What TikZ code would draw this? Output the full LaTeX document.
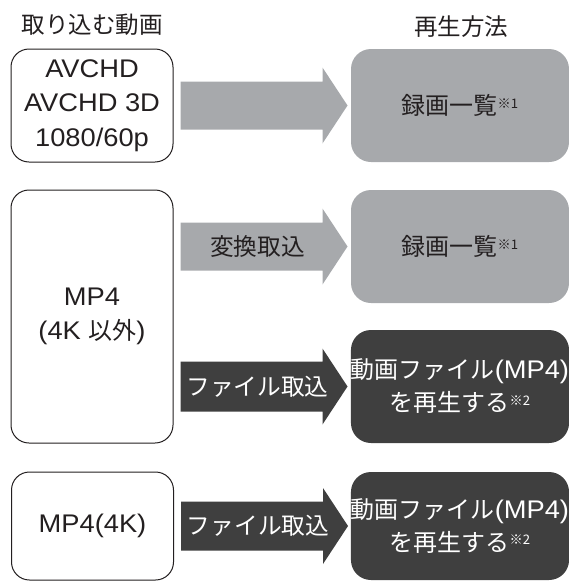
\documentclass[tikz,border=0pt]{standalone}
\usepackage{fontspec}
\setmainfont{Liberation Sans}[FakeStretch=1.07]
\newfontfamily\jp{Noto Sans CJK JP}[Scale=0.94]
\usetikzlibrary{calc}
\definecolor{boxgray}{RGB}{167,169,172}
\definecolor{boxdark}{RGB}{63,63,63}
\definecolor{ink}{RGB}{35,31,32}
\newcommand\refmk[1]{\raisebox{6.5pt}{\fontsize{14}{14}\selectfont\jp ※#1}}
\tikzset{
  txt/.style={font=\fontsize{25.5}{34.5}\selectfont, align=center, inner sep=0pt},
  title/.style={font=\fontsize{25}{28}\selectfont\jp, text=ink, inner sep=0pt},
  srcbox/.style={txt, draw=ink, line width=1pt, rounded corners=18pt, fill=white,
    minimum width=162pt, text=ink},
  playgray/.style={txt, fill=boxgray, rounded corners=20pt, minimum width=218pt, text=ink},
  playdark/.style={txt, fill=boxdark, rounded corners=20pt, minimum width=218pt, text=white,
    font=\fontsize{25.5}{33}\selectfont},
  arrlabel/.style={font=\fontsize{25.2}{28}\selectfont\jp, inner sep=0pt},
}
\begin{document}
\begin{tikzpicture}[x=1pt,y=-1pt]
\useasboundingbox (0,0) rectangle (569,581);
% titles
\node[title] (t1) at (92,25) {取り込む動画};
\node[title] (t2) at (461,27) {再生方法};
% source boxes
\node[srcbox, minimum height=113pt] (b1) at (92,105.5) {AVCHD\\AVCHD 3D\\1080/60p};
\node[srcbox, minimum height=253pt] (b2) at (92,316.5) {MP4\\(4K {\jp 以外})};
\node[srcbox, minimum height=108pt] (b3) at (92.5,526) {MP4(4K)};
% playback boxes
\node[playgray, minimum height=113pt] (g1) at (460,105.5) {{\jp 録画一覧}\refmk{1}};
\node[playgray, minimum height=113pt] (g2) at (460,246.5) {{\jp 録画一覧}\refmk{1}};
\node[playdark, minimum height=113pt] (d1) at (460,386.5) {{\jp 動画ファイル}(MP4)\\{\jp を再生する}\refmk{2}};
\node[playdark, minimum height=108pt] (d2) at (460,526) {{\jp 動画ファイル}(MP4)\\{\jp を再生する}\refmk{2}};
% block arrows
\fill[boxgray] ($(b1.east |- g1.west)+(7,0)$) ++(0,-24) -- ++(142,0) -- ++(0,-14) -- ++(25,38) -- ++(-25,38) -- ++(0,-14) -- ++(-142,0) -- cycle;
\fill[boxgray] ($(b2.east |- g2.west)+(7,0)$) ++(0,-24) -- ++(142,0) -- ++(0,-14) -- ++(25,38) -- ++(-25,38) -- ++(0,-14) -- ++(-142,0) -- cycle;
\fill[boxdark] ($(b2.east |- d1.west)+(7,0)$) ++(0,-25) -- ++(142,0) -- ++(0,-13) -- ++(25,38) -- ++(-25,38) -- ++(0,-13) -- ++(-142,0) -- cycle;
\fill[boxdark] ($(b3.east |- d2.west)+(7,0)$) ++(0,-24.5) -- ++(142,0) -- ++(0,-13.5) -- ++(25,38) -- ++(-25,38) -- ++(0,-13.5) -- ++(-142,0) -- cycle;
% arrow labels
\node[arrlabel, text=ink] (l2) at ($(b2.east |- g2.west)+(84,0)$) {変換取込};
\node[arrlabel, text=white] (l3) at ($(b2.east |- d1.west)+(84,0)$) {ファイル取込};
\node[arrlabel, text=white] (l4) at ($(b3.east |- d2.west)+(84,0)$) {ファイル取込};
\end{tikzpicture}
\end{document}
